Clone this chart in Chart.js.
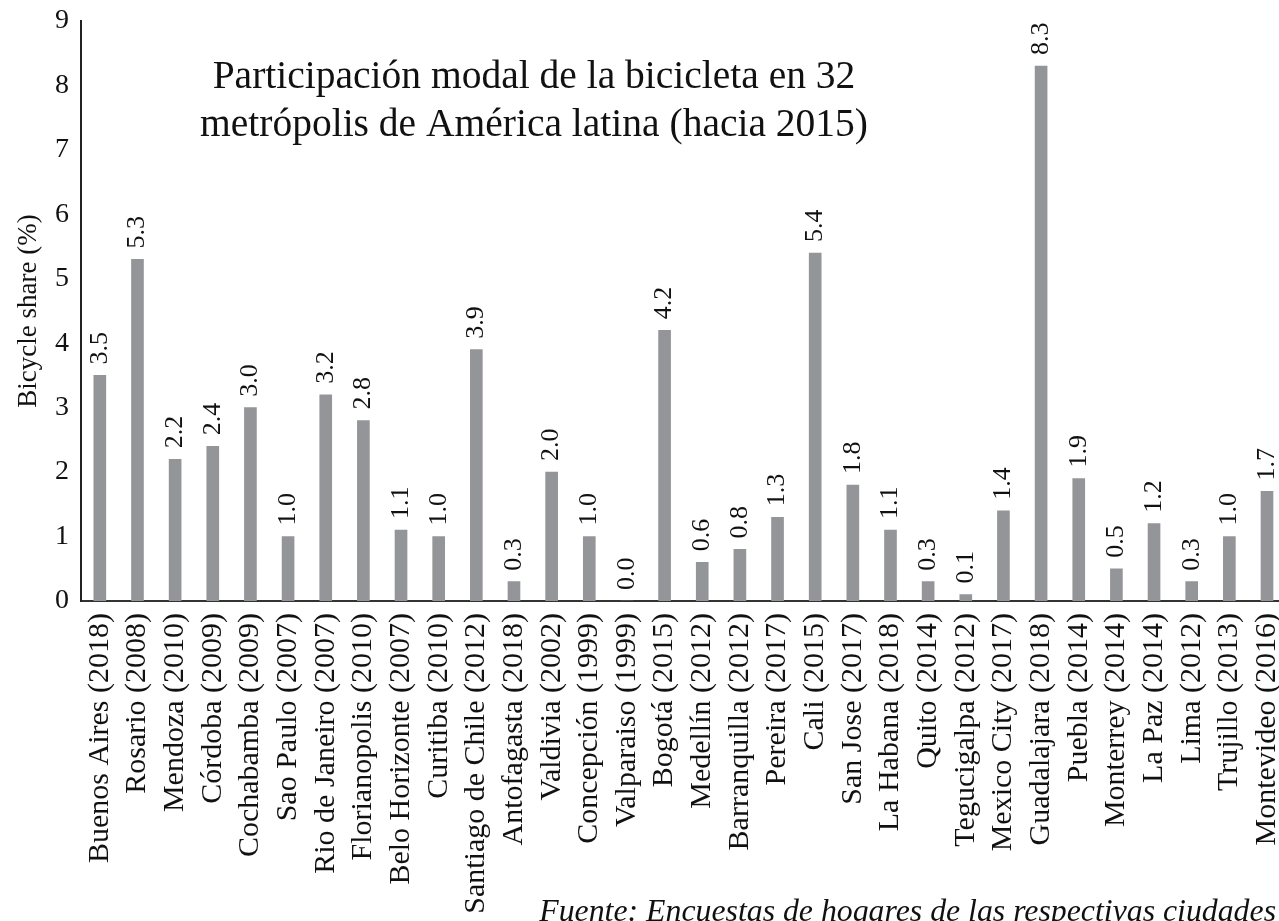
<!DOCTYPE html>
<html>
<head>
<meta charset="utf-8">
<script src="https://cdn.jsdelivr.net/npm/chart.js@4/dist/chart.umd.min.js"></script>
<style>
  html, body { margin: 0; padding: 0; background: #fff; overflow: hidden; }
  #wrap { position: relative; width: 1315px; height: 921px; }
</style>
</head>
<body>
<div id="wrap"><canvas id="chart" width="1315" height="921"></canvas></div>
<script>
// cities with survey year
const cities = [
    'Buenos Aires (2018)', 'Rosario (2008)', 'Mendoza (2010)', 'Córdoba (2009)',
    'Cochabamba (2009)', 'Sao Paulo (2007)', 'Rio de Janeiro (2007)', 'Florianopolis (2010)',
    'Belo Horizonte (2007)', 'Curitiba (2010)', 'Santiago de Chile (2012)', 'Antofagasta (2018)',
    'Valdivia (2002)', 'Concepción (1999)', 'Valparaiso (1999)', 'Bogotá (2015)',
    'Medellín (2012)', 'Barranquilla (2012)', 'Pereira (2017)', 'Cali (2015)',
    'San Jose (2017)', 'La Habana (2018)', 'Quito (2014)', 'Tegucigalpa (2012)',
    'Mexico City (2017)', 'Guadalajara (2018)', 'Puebla (2014)', 'Monterrey (2014)',
    'La Paz (2014)', 'Lima (2012)', 'Trujillo (2013)', 'Montevideo (2016)'
];

// bicycle share in %
const share = [
    3.5, 5.3, 2.2, 2.4, 3.0, 1.0, 3.2, 2.8,
    1.1, 1.0, 3.9, 0.3, 2.0, 1.0, 0.0, 4.2,
    0.6, 0.8, 1.3, 5.4, 1.8, 1.1, 0.3, 0.1,
    1.4, 8.3, 1.9, 0.5, 1.2, 0.3, 1.0, 1.7
];

const yTicks = [0, 1, 2, 3, 4, 5, 6, 7, 8, 9];

const titleLines = [
    'Participación modal de la bicicleta en 32',
    'metrópolis de América latina (hacia 2015)'
];
const sourceNote = 'Fuente: Encuestas de hogares de las respectivas ciudades';

const serif = "'Liberation Serif', 'Times New Roman', serif";

// numbers written above each bar, turned upright
const valueLabels = {
    id: 'valueLabels',
    afterDatasetsDraw(chart) {
        const ctx = chart.ctx;
        const meta = chart.getDatasetMeta(0);
        ctx.save();
        ctx.fillStyle = '#111';
        ctx.font = '26px ' + serif;
        ctx.textAlign = 'left';
        ctx.textBaseline = 'middle';
        meta.data.forEach((bar, i) => {
            ctx.save();
            ctx.translate(bar.x, bar.y - 11);
            ctx.rotate(-Math.PI / 2);
            ctx.fillText(share[i].toFixed(1), 0, 0);
            ctx.restore();
        });
        ctx.restore();
    }
};

// title inside the plot and the source line at the bottom
const notes = {
    id: 'notes',
    afterDraw(chart) {
        const ctx = chart.ctx;
        ctx.save();
        ctx.fillStyle = '#111';
        ctx.textAlign = 'center';
        ctx.textBaseline = 'alphabetic';
        ctx.font = '39.5px ' + serif;
        ctx.fillText(titleLines[0], 534, 88);
        ctx.fillText(titleLines[1], 534, 136);
        ctx.textAlign = 'right';
        ctx.font = 'italic 31.8px ' + serif;
        ctx.fillText(sourceNote, 1276, 921);
        ctx.restore();
    }
};

const config = {
    type: 'bar',
    data: {
        labels: cities,
        datasets: [{
            data: share,
            backgroundColor: '#939598',
            barThickness: 12
        }]
    },
    options: {
        responsive: false,
        animation: false,
        layout: { padding: { top: 21, left: 0, right: 0, bottom: 0 } },
        plugins: {
            legend: { display: false },
            tooltip: { enabled: false }
        },
        scales: {
            x: {
                grid: { display: false, drawTicks: false },
                border: { color: '#333', width: 2 },
                ticks: {
                    autoSkip: false,
                    minRotation: 90,
                    maxRotation: 90,
                    padding: 12,
                    color: '#111',
                    font: { family: serif, size: 30 }
                },
                afterFit(scale) { scale.height = 320; }
            },
            y: {
                min: 0,
                max: 9,
                grid: { display: false, drawTicks: false },
                border: { color: '#222', width: 2 },
                afterBuildTicks(scale) {
                    scale.ticks = yTicks.map(v => ({ value: v }));
                },
                ticks: {
                    padding: 12,
                    color: '#111',
                    font: { family: serif, size: 28, lineHeight: 0.6 }
                },
                title: {
                    display: true,
                    text: 'Bicycle share (%)',
                    color: '#111',
                    font: { family: serif, size: 27 },
                    padding: { top: 13, bottom: 0 }
                },
                afterFit(scale) { scale.width = 81; }
            }
        }
    },
    plugins: [valueLabels, notes]
};

new Chart(document.getElementById('chart'), config);
</script>
</body>
</html>
